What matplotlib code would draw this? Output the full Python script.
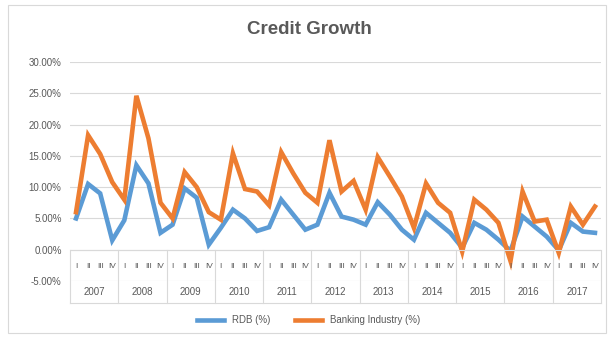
import matplotlib
matplotlib.use("Agg")
import matplotlib.pyplot as plt
from matplotlib.patches import Rectangle
from matplotlib.ticker import FuncFormatter

# quarterly credit growth (%), 2007 Q1 .. 2017 Q4
years = ["2007", "2008", "2009", "2010", "2011", "2012",
         "2013", "2014", "2015", "2016", "2017"]
quarters = ["I", "II", "III", "IV"]

rdb = [5.0, 10.5, 9.0, 1.5,
       4.7, 13.5, 10.6, 2.7,
       4.0, 9.8, 8.3, 0.8,
       3.5, 6.4, 5.0, 3.0,
       3.6, 8.0, 5.6, 3.2,
       4.0, 9.1, 5.3, 4.8,
       4.0, 7.6, 5.6, 3.2,
       1.6, 5.9, 4.3, 2.7,
       0.3, 4.3, 3.2, 1.6,
       -0.2, 5.3, 3.7, 2.1,
       -0.1, 4.3, 2.9, 2.7]
banking = [6.0, 18.3, 15.3, 10.8,
           8.0, 24.6, 17.8, 7.5,
           5.0, 12.4, 10.0, 6.0,
           4.8, 15.4, 9.7, 9.3,
           7.1, 15.6, 12.2, 9.1,
           7.5, 17.5, 9.3, 11.0,
           6.4, 14.8, 11.7, 8.5,
           3.5, 10.6, 7.5, 5.9,
           -0.3, 8.0, 6.4, 4.3,
           -1.8, 9.3, 4.5, 4.8,
           -0.5, 6.9, 4.0, 6.9]

blue = "#5B9BD5"
orange = "#ED7D31"
txt = "#595959"
grid = "#D9D9D9"
plt.rcParams['font.family'] = ['Liberation Sans', 'DejaVu Sans']

fig = plt.figure(figsize=(6.11, 3.38), dpi=100)
fig.patches.append(Rectangle((8 / 611, 5 / 338), 598 / 611, 328 / 338,
                             transform=fig.transFigure, fill=False,
                             edgecolor=grid, lw=0.8))
ax = fig.add_axes([70 / 611, 1 - 281 / 338, 531 / 611, 219 / 338])

n = len(rdb)
xs = [i + 0.5 for i in range(n)]
l1, = ax.plot(xs, rdb, color=blue, lw=3.3, solid_joinstyle="miter")
l2, = ax.plot(xs, banking, color=orange, lw=3.3, solid_joinstyle="miter")

ax.set_xlim(0, n)
ax.set_ylim(-5, 30)
ax.set_yticks(range(-5, 31, 5))
ax.yaxis.set_major_formatter(FuncFormatter(lambda v, p: "%.2f%%" % v))
ax.tick_params(axis="y", length=0, labelsize=7, labelcolor=txt, pad=6)
ax.set_xticks([])
for s in ax.spines.values():
    s.set_visible(False)
ax.grid(axis="y", color=grid, lw=0.8)
ax.set_axisbelow(True)

# multi-level category axis, crossing at 0
ax.axhline(0, color=grid, lw=0.8)
ax.plot([0, n], [-8.5, -8.5], color=grid, lw=0.8, clip_on=False)
for k in range(len(years) + 1):
    ax.plot([4 * k, 4 * k], [0, -8.5], color=grid, lw=0.8, clip_on=False)
for i in range(n):
    ax.text(xs[i], -2.7, quarters[i % 4], ha="center", va="center",
            fontsize=6, color=txt, clip_on=False)
for k, y in enumerate(years):
    ax.text(4 * k + 2, -6.8, y, ha="center", va="center",
            fontsize=7, color=txt, clip_on=False)

fig.text(0.507, 1 - 30 / 338, "Credit Growth", ha="center", va="center",
         fontsize=13.5, fontweight="bold", color=txt)
fig.legend([l1, l2], ["RDB (%)", "Banking Industry (%)"], loc="center",
           bbox_to_anchor=(0.505, 1 - 320 / 338), ncol=2, frameon=False,
           fontsize=7, labelcolor=txt, handlelength=2.8, columnspacing=2.5)

fig.savefig("out.png", dpi=100)
